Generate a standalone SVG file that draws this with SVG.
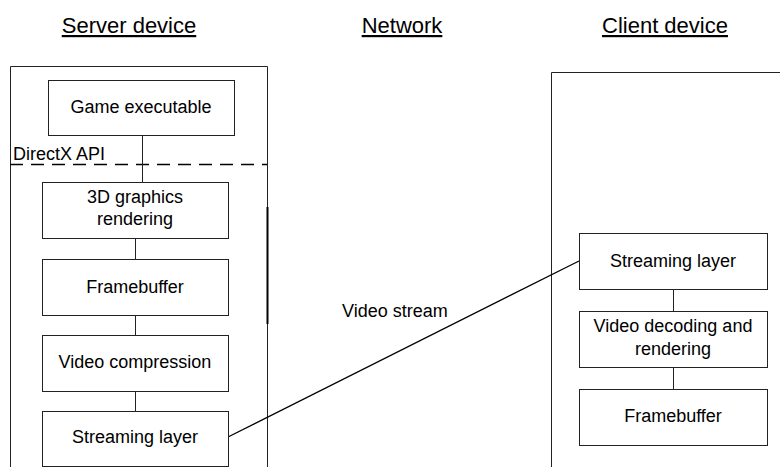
<svg xmlns="http://www.w3.org/2000/svg" width="780" height="467" viewBox="0 0 780 467">
<style>
text{font-family:"Liberation Sans",Arial,sans-serif;font-size:18px;fill:#000}
.t{font-size:22px;text-decoration:underline}
.c{text-anchor:middle}
rect.b{fill:#fff;stroke:#222;stroke-width:1}
.ln{stroke:#222;stroke-width:1;fill:none}
</style>
<rect width="780" height="467" fill="#fff"/>
<g id="titles">
<text class="t c" x="129" y="33">Server device</text>
<text class="t c" x="402" y="33">Network</text>
<text class="t c" x="665" y="33">Client device</text>
</g>
<g id="server-device">
<path class="ln" d="M10.5,467 V66.5 H267.5 V467"/>
<path d="M267.5,207 V324" stroke="#000" stroke-width="2"/>
<path d="M10,164.5 H267" stroke="#000" stroke-width="1.3" fill="none" stroke-dasharray="13,8"/>
<text x="13" y="160">DirectX API</text>
</g>
<g id="client-device">
<path class="ln" d="M551.5,467 V72.5 H780"/>
</g>
<g id="connectors">
<path class="ln" d="M142.5,135 V182"/>
<path class="ln" d="M135.5,238 V259"/>
<path class="ln" d="M135.5,315 V335"/>
<path class="ln" d="M135.5,391 V411"/>
<path class="ln" d="M673.5,289 V311"/>
<path class="ln" d="M673.5,367 V389"/>
<path d="M228,437 L579,261" stroke="#000" stroke-width="1.3" fill="none"/>
<text x="342" y="317">Video stream</text>
</g>
<g id="game-executable">
<rect class="b" x="48.5" y="80.5" width="186" height="55"/>
<text class="c" x="141" y="113">Game executable</text>
</g>
<g id="graphics-rendering">
<rect class="b" x="42.5" y="182.5" width="186" height="56"/>
<text class="c" x="135" y="203">3D graphics</text>
<text class="c" x="135" y="225">rendering</text>
</g>
<g id="server-framebuffer">
<rect class="b" x="42.5" y="259.5" width="186" height="56"/>
<text class="c" x="135" y="293">Framebuffer</text>
</g>
<g id="video-compression">
<rect class="b" x="42.5" y="335.5" width="186" height="56"/>
<text class="c" x="135" y="368">Video compression</text>
</g>
<g id="server-streaming">
<rect class="b" x="42.5" y="411.5" width="186" height="55"/>
<text class="c" x="135" y="443">Streaming layer</text>
</g>
<g id="client-streaming">
<rect class="b" x="579.5" y="233.5" width="188" height="56"/>
<text class="c" x="673" y="267">Streaming layer</text>
</g>
<g id="video-decoding">
<rect class="b" x="579.5" y="311.5" width="188" height="56"/>
<text class="c" x="673" y="332">Video decoding and</text>
<text class="c" x="673" y="355">rendering</text>
</g>
<g id="client-framebuffer">
<rect class="b" x="579.5" y="389.5" width="188" height="56"/>
<text class="c" x="673" y="422">Framebuffer</text>
</g>
</svg>
